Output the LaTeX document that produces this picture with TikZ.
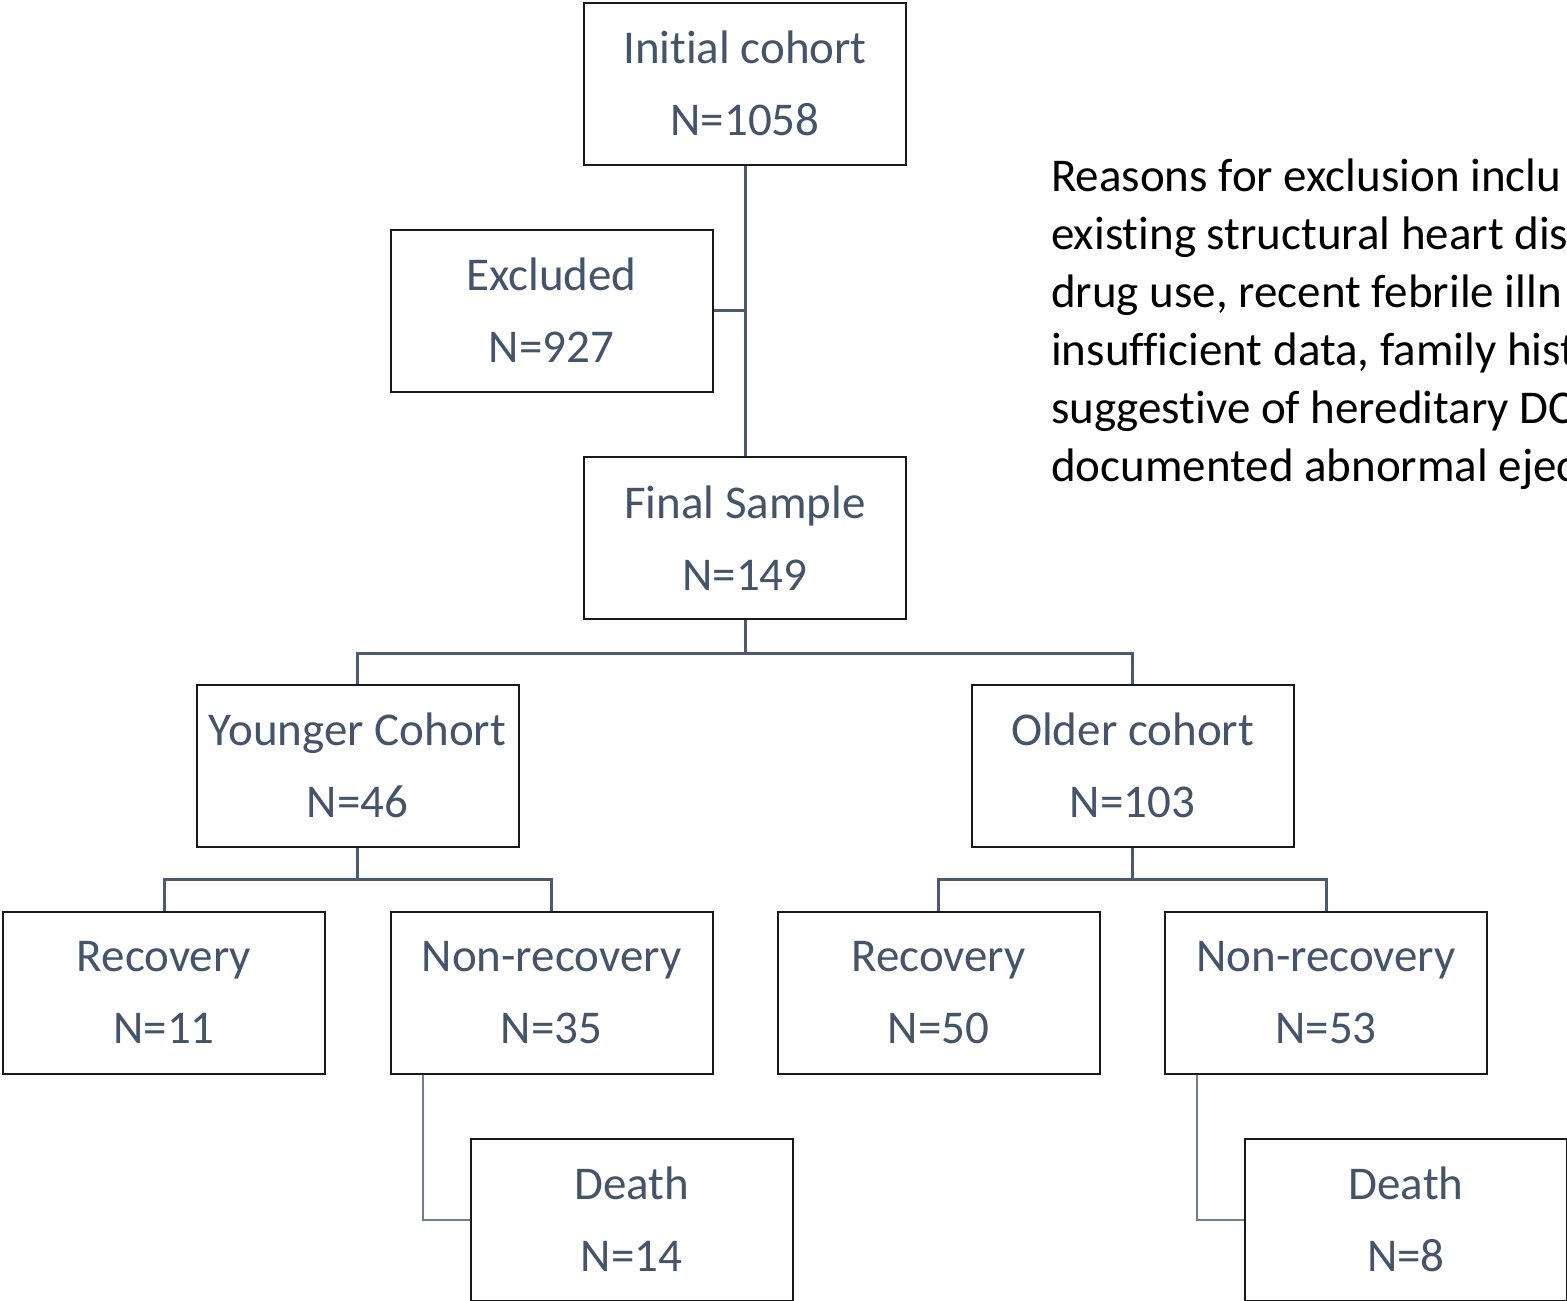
\documentclass[tikz,border=0pt]{standalone}
\usepackage{fontspec}
\setmainfont{Carlito}[Ligatures=NoCommon]
\usepackage{xcolor}
\definecolor{fcSlate}{RGB}{68, 84, 106}
\definecolor{fcLine}{RGB}{74, 90, 114}
\definecolor{fcSide}{RGB}{112, 126, 146}

\begin{document}
\begin{tikzpicture}[x=1pt, y=-1pt,
          fbox/.style={draw=black!90, line width=2pt, fill=white,
                       minimum width=322pt, minimum height=162pt, inner sep=0pt,
                       align=center, text=fcSlate,
                       font=\fontsize{47}{72}\selectfont},
          link/.style={draw=fcLine, line width=3pt},
          sidelink/.style={draw=fcSide, line width=2pt}]
        \useasboundingbox (0,0) rectangle (1567,1301);
        \node[fbox] (init) at ( 745, 83.5) {Initial cohort\\N=1058};
        \node[fbox] (excl) at ( 551.5, 310.5) {Excluded\\N=927};
        \node[fbox] (final) at ( 745, 538) {Final Sample\\N=149};
        \node[fbox] (young) at ( 357.5, 765.5) {Younger Cohort\\N=46};
        \node[fbox] (old) at (1132.5, 765.5) {Older cohort\\N=103};
        \node[fbox] (recy) at ( 164, 992.5) {Recovery\\N=11};
        \node[fbox] (nrecy) at ( 551.5, 992.5) {Non-recovery\\N=35};
        \node[fbox] (reco) at ( 938.5, 992.5) {Recovery\\N=50};
        \node[fbox] (nreco) at (1326, 992.5) {Non-recovery\\N=53};
        \node[fbox] (deathy) at ( 631.5,1219.5) {Death\\N=14};
        \node[fbox] (deatho) at (1406,1219.5) {Death\\N=8};
        \node[anchor=north west, inner sep=0pt, align=left, text=black,
              font=\fontsize{47}{58}\selectfont] (why) at (1051, 159)
              {Reasons for exclusion inclu\\existing structural heart dis\\drug use, recent febrile illn\\insufficient data, family hist\\suggestive of hereditary DC\\documented abnormal ejec};
        % connectors
        \draw[link] (init.south) -- (final.north);
        \draw[link] (excl.east) -- (excl.east -| init.south);
        \draw[link] (final.south) -- ++(0,33) -| (young.north);
        \draw[link] (final.south) -- ++(0,33) -| (old.north);
        \draw[link] (young.south) -- ++(0,32) -| (recy.north);
        \draw[link] (young.south) -- ++(0,32) -| (nrecy.north);
        \draw[link] (old.south) -- ++(0,32) -| (reco.north);
        \draw[link] (old.south) -- ++(0,32) -| (nreco.north);
        \draw[sidelink] ([xshift=33pt]nrecy.south west) |- (deathy.west);
        \draw[sidelink] ([xshift=33pt]nreco.south west) |- (deatho.west);
      \end{tikzpicture}
\end{document}
